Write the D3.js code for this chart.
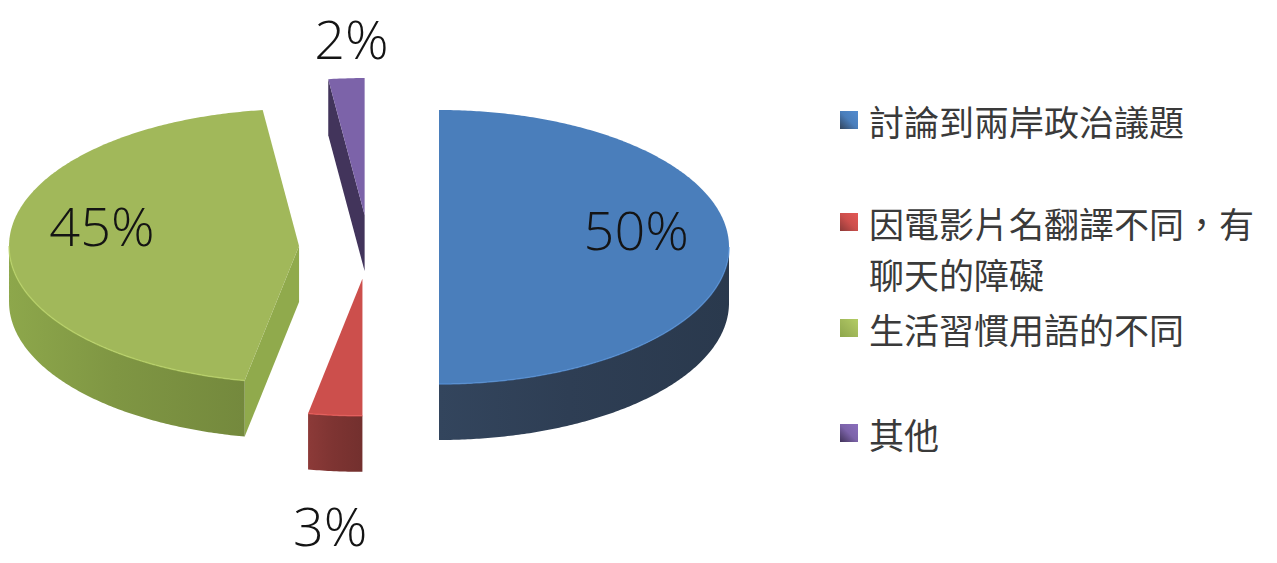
<!DOCTYPE html>
<html>
<head>
<meta charset="utf-8">
<script src="https://cdn.jsdelivr.net/npm/d3@7"></script>
<style>
  html, body { margin: 0; padding: 0; background: #ffffff; }
  svg { display: block; }
</style>
</head>
<body>
<svg id="chart" width="1277" height="563"></svg>
<script>
// ---- data ----
const categories = ["討論到兩岸政治議題", "因電影片名翻譯不同，有聊天的障礙", "生活習慣用語的不同", "其他"];
const values = [50, 3, 45, 2];
const percentLabels = ["50%", "3%", "45%", "2%"];
const topColors = ["#4a7ebb", "#cc4f4c", "#a1b85a", "#7c63a9"];
const sideColors = ["#2e3e54", "#7e3432", "#7f9643", "#3a2e50"];

// ---- geometry ----
const W = 1277, H = 563;
const cx = 369, cy = 247, rx = 290, ry = 137, depth = 56;
const explodeX = 70, explodeY = 32;

const svg = d3.select("#chart");
const defs = svg.append("defs");

const pie = d3.pie().sort(null).value(d => d).startAngle(0).endAngle(2 * Math.PI);
const arcs = pie(values);

const sx = d3.scaleLinear().domain([-1, 1]).range([-rx, rx]);
const sy = d3.scaleLinear().domain([-1, 1]).range([ry, -ry]);

function pt(c, a, r, z) {
  return [c[0] + sx(r * Math.sin(a)), c[1] + sy(r * Math.cos(a)) + (z || 0)];
}
function arcPts(c, a0, a1, z) {
  const n = Math.max(6, Math.ceil((a1 - a0) / 0.01));
  const out = [];
  for (let i = 0; i <= n; i++) out.push(pt(c, a0 + (a1 - a0) * i / n, 1, z));
  return out;
}
const line = d3.line().curve(d3.curveLinear);

sideColors.forEach((col, i) => {
  const g = defs.append("linearGradient").attr("id", "side" + i)
    .attr("x1", "0%").attr("y1", "0%").attr("x2", "100%").attr("y2", "0%");
  const c = d3.color(col);
  g.append("stop").attr("offset", "0%").attr("stop-color", c.brighter(0.3));
  g.append("stop").attr("offset", "45%").attr("stop-color", c);
  g.append("stop").attr("offset", "100%").attr("stop-color", c.darker(0.25));
});

const slices = arcs.map((d, i) => {
  const mid = (d.startAngle + d.endAngle) / 2;
  const c = [cx + explodeX * Math.sin(mid), cy - explodeY * Math.cos(mid)];
  return { d, i, mid, c };
});

const gPie = svg.append("g");

slices.forEach(s => {
  const { d, i, c } = s;
  const a0 = d.startAngle, a1 = d.endAngle;
  const g = gPie.append("g");
  const radialCol = d3.color(sideColors[i]).brighter(0.35);

  if (Math.sin(a0) < -1e-6) {
    const p = [c, pt(c, a0, 1), pt(c, a0, 1, depth), [c[0], c[1] + depth]];
    g.append("path").attr("d", line(p) + "Z").attr("fill", radialCol);
  }
  if (Math.sin(a1) > 1e-6) {
    const p = [c, pt(c, a1, 1), pt(c, a1, 1, depth), [c[0], c[1] + depth]];
    g.append("path").attr("d", line(p) + "Z").attr("fill", radialCol);
  }
  const b0 = Math.max(a0, Math.PI / 2), b1 = Math.min(a1, 3 * Math.PI / 2);
  if (b1 > b0) {
    const top = arcPts(c, b0, b1, 0);
    const bot = arcPts(c, b0, b1, depth).reverse();
    g.append("path").attr("d", line(top.concat(bot)) + "Z")
      .attr("fill", "url(#side" + i + ")");
  }
  const topPts = [c].concat(arcPts(c, a0, a1, 0));
  g.append("path").attr("d", line(topPts) + "Z").attr("fill", topColors[i]);
  if (b1 > b0) {
    g.append("path").attr("d", line(arcPts(c, b0, b1, 0)))
      .attr("fill", "none").attr("stroke", d3.color(topColors[i]).brighter(0.4))
      .attr("stroke-width", 1.5).attr("opacity", 0.7);
  }
});

// percentage labels
const gLab = svg.append("g");
slices.forEach(s => {
  const { d, i, c, mid } = s;
  const frac = (d.endAngle - d.startAngle) / (2 * Math.PI);
  let x, y;
  if (frac > 0.1) {
    const p = pt(c, mid, 0.68);
    x = p[0]; y = p[1] - 18;
  } else if (Math.cos(mid) > 0) {
    const p = pt(c, mid, 1);
    x = p[0] + 5; y = p[1] - 40;
  } else {
    const p = pt(c, mid, 1, depth);
    x = p[0] - 5; y = p[1] + 54;
  }
  gLab.append("text")
    .attr("x", x).attr("y", y)
    .attr("text-anchor", "middle")
    .attr("dominant-baseline", "central")
    .attr("font-family", "'Open Sans', 'Noto Sans', sans-serif")
    .attr("font-weight", 300)
    .attr("font-size", 54)
    .attr("fill", "#141414")
    .text(percentLabels[i]);
});

// legend
const legendX = 840, textX = 869;
const rowY = d3.scaleOrdinal().domain(d3.range(categories.length)).range([120, 222, 328, 433]);
const lineH = 51;
const maxChars = 11;
const gLeg = svg.append("g");
categories.forEach((name, i) => {
  const y = rowY(i);
  const gid = "leg" + i;
  const gr = defs.append("linearGradient").attr("id", gid)
    .attr("x1", "0%").attr("y1", "100%").attr("x2", "100%").attr("y2", "0%");
  gr.append("stop").attr("offset", "0%").attr("stop-color", d3.color(sideColors[i]).brighter(0.3));
  gr.append("stop").attr("offset", "50%").attr("stop-color", topColors[i]);
  gr.append("stop").attr("offset", "100%").attr("stop-color", d3.color(topColors[i]).brighter(0.3));
  gLeg.append("rect").attr("x", legendX).attr("y", y - 9).attr("width", 18).attr("height", 18)
    .attr("fill", "url(#" + gid + ")");
  const chars = Array.from(name);
  const lines = [];
  for (let k = 0; k < chars.length; k += maxChars) lines.push(chars.slice(k, k + maxChars).join(""));
  lines.forEach((ln, j) => {
    gLeg.append("text")
      .attr("x", textX).attr("y", y + j * lineH)
      .attr("dominant-baseline", "central")
      .attr("font-family", "'Noto Sans CJK TC', 'Noto Sans CJK SC', sans-serif")
      .attr("font-weight", 400)
      .attr("font-size", 35)
      .attr("fill", "#3a3a3a")
      .text(ln);
  });
});
</script>
</body>
</html>
